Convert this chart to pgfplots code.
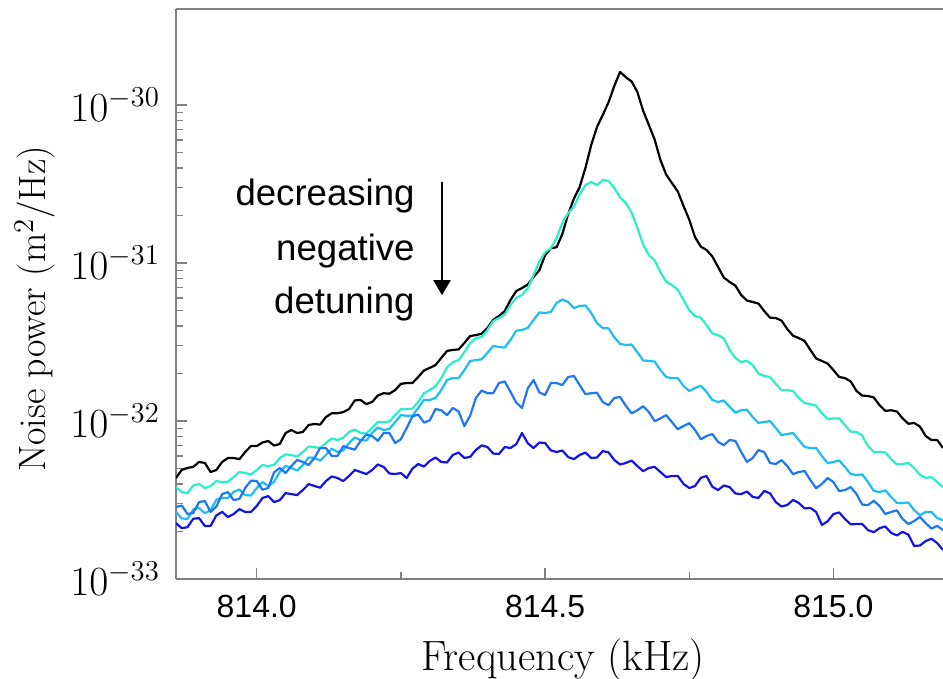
\documentclass[border=0pt]{standalone}
\usepackage{pgfplots}
\pgfplotsset{compat=1.18}
\usepackage{fontspec}
\usetikzlibrary{arrows.meta}
\newfontfamily\arialf{Liberation Sans}
\definecolor{axgray}{RGB}{128,128,128}
\definecolor{cA}{RGB}{40,240,200}
\definecolor{cB}{RGB}{30,190,245}
\definecolor{cC}{RGB}{30,120,245}
\definecolor{cD}{RGB}{20,20,230}
\begin{document}
\begin{tikzpicture}
\begin{axis}[
  name=ax, at={(0,0)}, anchor=south west,
  scale only axis, width=383.5pt, height=285pt,
  xmin=813.86, xmax=815.19,
  ymode=log, ymin=1e-33, ymax=4.05e-30,
  axis x line*=box, axis y line*=left,
  axis line style={axgray, line width=0.8pt},
  xtick={814,814.5,815}, xticklabels={814.0,814.5,815.0},
  minor xtick={814.25,814.75},
  xtick pos=bottom, ytick pos=left,
  ytick={1e-33,1e-32,1e-31,1e-30},
  tick align=inside,
  major tick length=5.5pt, minor tick length=3.5pt,
  every tick/.style={axgray, line width=0.7pt},
  xticklabel style={font=\arialf\fontsize{16}{16}\selectfont, yshift=-4.5pt},
  yticklabel style={font=\fontsize{20.5}{20.5}\selectfont, xshift=-4.5pt},
  xlabel={Frequency (kHz)},
  ylabel={Noise power (m$^2$/Hz)},
  xlabel style={font=\fontsize{21.2}{21.2}\selectfont, at={(axis description cs:0.505,-0.142)}, anchor=center},
  ylabel style={font=\fontsize{19}{19}\selectfont, at={(axis description cs:-0.184,0.474)}, anchor=center},
  every axis plot/.append style={line width=1.1pt, line join=round},
  clip=true,
]
\addplot[black] table {
813.86 4.36e-33
813.87 4.91e-33
813.88 5.05e-33
813.89 5.13e-33
813.90 5.51e-33
813.91 5.43e-33
813.92 4.76e-33
813.93 4.90e-33
813.94 5.51e-33
813.95 5.84e-33
813.96 5.84e-33
813.97 5.74e-33
813.98 6.37e-33
813.99 6.95e-33
814.00 6.95e-33
814.01 7.32e-33
814.02 7.48e-33
814.03 7.00e-33
814.04 7.16e-33
814.05 8.40e-33
814.06 8.78e-33
814.07 8.40e-33
814.08 8.53e-33
814.09 9.44e-33
814.10 9.58e-33
814.11 9.50e-33
814.12 1.06e-32
814.13 1.12e-32
814.14 1.12e-32
814.15 1.14e-32
814.16 1.19e-32
814.17 1.35e-32
814.18 1.36e-32
814.19 1.28e-32
814.20 1.32e-32
814.21 1.45e-32
814.22 1.50e-32
814.23 1.49e-32
814.24 1.57e-32
814.25 1.72e-32
814.26 1.74e-32
814.27 1.74e-32
814.28 1.90e-32
814.29 2.09e-32
814.30 2.17e-32
814.31 2.26e-32
814.32 2.51e-32
814.33 2.78e-32
814.34 2.82e-32
814.35 2.84e-32
814.36 3.12e-32
814.37 3.45e-32
814.38 3.50e-32
814.39 3.57e-32
814.40 3.88e-32
814.41 4.36e-32
814.42 4.62e-32
814.43 4.96e-32
814.44 5.84e-32
814.45 6.65e-32
814.46 6.95e-32
814.47 7.31e-32
814.48 8.16e-32
814.49 9.00e-32
814.50 1.12e-31
814.51 1.24e-31
814.52 1.26e-31
814.53 1.53e-31
814.54 2.04e-31
814.55 2.56e-31
814.56 3.03e-31
814.57 4.00e-31
814.58 5.59e-31
814.59 7.26e-31
814.60 8.65e-31
814.61 1.04e-30
814.62 1.32e-30
814.63 1.62e-30
814.64 1.50e-30
814.65 1.41e-30
814.66 1.21e-30
814.67 9.20e-31
814.68 7.48e-31
814.69 6.05e-31
814.70 4.49e-31
814.71 3.63e-31
814.72 3.21e-31
814.73 2.84e-31
814.74 2.30e-31
814.75 1.88e-31
814.76 1.46e-31
814.77 1.27e-31
814.78 1.21e-31
814.79 1.10e-31
814.80 9.44e-32
814.81 8.09e-32
814.82 7.59e-32
814.83 7.20e-32
814.84 6.28e-32
814.85 5.79e-32
814.86 5.67e-32
814.87 5.54e-32
814.88 4.97e-32
814.89 4.51e-32
814.90 4.49e-32
814.91 4.32e-32
814.92 3.82e-32
814.93 3.47e-32
814.94 3.35e-32
814.95 3.21e-32
814.96 2.82e-32
814.97 2.49e-32
814.98 2.40e-32
814.99 2.31e-32
815.00 2.10e-32
815.01 1.90e-32
815.02 1.87e-32
815.03 1.78e-32
815.04 1.55e-32
815.05 1.45e-32
815.06 1.44e-32
815.07 1.41e-32
815.08 1.26e-32
815.09 1.16e-32
815.10 1.17e-32
815.11 1.15e-32
815.12 1.04e-32
815.13 9.61e-33
815.14 9.72e-33
815.15 9.23e-33
815.16 8.04e-33
815.17 7.58e-33
815.18 7.59e-33
815.19 6.75e-33
};
\addplot[cA] table {
813.86 3.82e-33
813.87 3.55e-33
813.88 3.50e-33
813.89 3.91e-33
813.90 4.00e-33
813.91 3.77e-33
813.92 3.88e-33
813.93 4.17e-33
813.94 4.11e-33
813.95 4.14e-33
813.96 4.42e-33
813.97 4.76e-33
813.98 4.69e-33
813.99 4.59e-33
814.00 4.90e-33
814.01 5.27e-33
814.02 5.19e-33
814.03 5.28e-33
814.04 5.84e-33
814.05 6.15e-33
814.06 6.10e-33
814.07 5.96e-33
814.08 6.37e-33
814.09 6.90e-33
814.10 6.85e-33
814.11 6.75e-33
814.12 7.26e-33
814.13 7.76e-33
814.14 7.59e-33
814.15 7.83e-33
814.16 8.53e-33
814.17 8.84e-33
814.18 8.40e-33
814.19 8.34e-33
814.20 9.04e-33
814.21 9.87e-33
814.22 9.85e-33
814.23 9.94e-33
814.24 1.09e-32
814.25 1.19e-32
814.26 1.19e-32
814.27 1.20e-32
814.28 1.32e-32
814.29 1.50e-32
814.30 1.57e-32
814.31 1.66e-32
814.32 1.87e-32
814.33 2.19e-32
814.34 2.36e-32
814.35 2.43e-32
814.36 2.73e-32
814.37 3.11e-32
814.38 3.35e-32
814.39 3.40e-32
814.40 3.77e-32
814.41 4.29e-32
814.42 4.49e-32
814.43 4.72e-32
814.44 5.43e-32
814.45 6.01e-32
814.46 6.28e-32
814.47 6.94e-32
814.48 8.40e-32
814.49 1.02e-31
814.50 1.17e-31
814.51 1.24e-31
814.52 1.44e-31
814.53 1.80e-31
814.54 2.07e-31
814.55 2.27e-31
814.56 2.73e-31
814.57 3.11e-31
814.58 3.26e-31
814.59 3.11e-31
814.60 3.35e-31
814.61 3.31e-31
814.62 2.99e-31
814.63 2.60e-31
814.64 2.40e-31
814.65 2.09e-31
814.66 1.67e-31
814.67 1.31e-31
814.68 1.12e-31
814.69 1.04e-31
814.70 8.78e-32
814.71 7.63e-32
814.72 7.26e-32
814.73 6.80e-32
814.74 5.84e-32
814.75 5.04e-32
814.76 4.62e-32
814.77 4.51e-32
814.78 4.05e-32
814.79 3.59e-32
814.80 3.50e-32
814.81 3.33e-32
814.82 2.82e-32
814.83 2.51e-32
814.84 2.36e-32
814.85 2.41e-32
814.86 2.26e-32
814.87 2.00e-32
814.88 1.93e-32
814.89 1.90e-32
814.90 1.72e-32
814.91 1.57e-32
814.92 1.57e-32
814.93 1.55e-32
814.94 1.40e-32
814.95 1.30e-32
814.96 1.28e-32
814.97 1.25e-32
814.98 1.12e-32
814.99 1.03e-32
815.00 1.04e-32
815.01 1.04e-32
815.02 9.44e-33
815.03 8.58e-33
815.04 8.53e-33
815.05 8.08e-33
815.06 6.95e-33
815.07 6.37e-33
815.08 6.37e-33
815.09 6.33e-33
815.10 5.75e-33
815.11 5.31e-33
815.12 5.35e-33
815.13 5.43e-33
815.14 5.05e-33
815.15 4.57e-33
815.16 4.36e-33
815.17 4.42e-33
815.18 4.11e-33
815.19 3.82e-33
};
\addplot[cB] table {
813.86 2.66e-33
813.87 2.42e-33
813.88 2.40e-33
813.89 2.76e-33
813.90 2.82e-33
813.91 2.61e-33
813.92 2.73e-33
813.93 3.18e-33
813.94 3.26e-33
813.95 3.26e-33
813.96 3.56e-33
813.97 3.69e-33
813.98 3.40e-33
813.99 3.38e-33
814.00 3.77e-33
814.01 4.11e-33
814.02 3.88e-33
814.03 4.13e-33
814.04 4.76e-33
814.05 5.20e-33
814.06 5.05e-33
814.07 4.86e-33
814.08 5.27e-33
814.09 5.89e-33
814.10 5.84e-33
814.11 5.62e-33
814.12 6.10e-33
814.13 6.70e-33
814.14 6.37e-33
814.15 6.52e-33
814.16 7.26e-33
814.17 7.87e-33
814.18 7.59e-33
814.19 7.53e-33
814.20 8.40e-33
814.21 9.10e-33
814.22 8.78e-33
814.23 8.91e-33
814.24 9.85e-33
814.25 1.09e-32
814.26 1.08e-32
814.27 1.08e-32
814.28 1.21e-32
814.29 1.36e-32
814.30 1.36e-32
814.31 1.40e-32
814.32 1.57e-32
814.33 1.82e-32
814.34 1.87e-32
814.35 1.87e-32
814.36 2.10e-32
814.37 2.40e-32
814.38 2.43e-32
814.39 2.46e-32
814.40 2.70e-32
814.41 2.99e-32
814.42 2.94e-32
814.43 2.92e-32
814.44 3.26e-32
814.45 3.73e-32
814.46 3.77e-32
814.47 3.89e-32
814.48 4.36e-32
814.49 4.87e-32
814.50 4.83e-32
814.51 4.90e-32
814.52 5.59e-32
814.53 5.88e-32
814.54 5.67e-32
814.55 5.19e-32
814.56 5.35e-32
814.57 5.39e-32
814.58 4.83e-32
814.59 4.17e-32
814.60 3.88e-32
814.61 3.86e-32
814.62 3.40e-32
814.63 3.08e-32
814.64 3.03e-32
814.65 3.05e-32
814.66 2.73e-32
814.67 2.42e-32
814.68 2.40e-32
814.69 2.38e-32
814.70 2.10e-32
814.71 1.90e-32
814.72 1.87e-32
814.73 1.87e-32
814.74 1.67e-32
814.75 1.55e-32
814.76 1.62e-32
814.77 1.67e-32
814.78 1.53e-32
814.79 1.36e-32
814.80 1.32e-32
814.81 1.35e-32
814.82 1.23e-32
814.83 1.13e-32
814.84 1.17e-32
814.85 1.18e-32
814.86 1.06e-32
814.87 9.75e-33
814.88 9.85e-33
814.89 1.00e-32
814.90 9.04e-33
814.91 8.15e-33
814.92 8.28e-33
814.93 8.41e-33
814.94 7.59e-33
814.95 6.85e-33
814.96 6.75e-33
814.97 6.76e-33
814.98 6.01e-33
814.99 5.42e-33
815.00 5.51e-33
815.01 5.63e-33
815.02 5.12e-33
815.03 4.62e-33
815.04 4.55e-33
815.05 4.59e-33
815.06 4.11e-33
815.07 3.61e-33
815.08 3.56e-33
815.09 3.64e-33
815.10 3.31e-33
815.11 3.03e-33
815.12 3.03e-33
815.13 3.05e-33
815.14 2.73e-33
815.15 2.54e-33
815.16 2.66e-33
815.17 2.66e-33
815.18 2.43e-33
815.19 2.36e-33
};
\addplot[cC] table {
813.86 2.86e-33
813.87 2.92e-33
813.88 2.58e-33
813.89 2.62e-33
813.90 3.07e-33
813.91 3.12e-33
813.92 2.66e-33
813.93 2.88e-33
813.94 3.45e-33
813.95 3.55e-33
813.96 3.16e-33
813.97 3.22e-33
813.98 3.77e-33
813.99 4.20e-33
814.00 4.17e-33
814.01 3.68e-33
814.02 3.77e-33
814.03 4.73e-33
814.04 5.05e-33
814.05 4.69e-33
814.06 5.19e-33
814.07 5.67e-33
814.08 5.51e-33
814.09 5.27e-33
814.10 5.84e-33
814.11 6.76e-33
814.12 6.75e-33
814.13 6.01e-33
814.14 6.01e-33
814.15 6.94e-33
814.16 6.75e-33
814.17 6.60e-33
814.18 7.48e-33
814.19 8.22e-33
814.20 8.04e-33
814.21 7.50e-33
814.22 8.40e-33
814.23 8.40e-33
814.24 7.26e-33
814.25 7.68e-33
814.26 9.04e-33
814.27 1.07e-32
814.28 1.10e-32
814.29 9.78e-33
814.30 1.01e-32
814.31 1.19e-32
814.32 1.17e-32
814.33 1.09e-32
814.34 1.21e-32
814.35 1.15e-32
814.36 9.30e-33
814.37 1.08e-32
814.38 1.40e-32
814.39 1.56e-32
814.40 1.50e-32
814.41 1.50e-32
814.42 1.74e-32
814.43 1.78e-32
814.44 1.53e-32
814.45 1.31e-32
814.46 1.21e-32
814.47 1.61e-32
814.48 1.82e-32
814.49 1.52e-32
814.50 1.46e-32
814.51 1.74e-32
814.52 1.74e-32
814.53 1.69e-32
814.54 1.90e-32
814.55 1.93e-32
814.56 1.69e-32
814.57 1.48e-32
814.58 1.50e-32
814.59 1.51e-32
814.60 1.32e-32
814.61 1.26e-32
814.62 1.40e-32
814.63 1.42e-32
814.64 1.25e-32
814.65 1.12e-32
814.66 1.17e-32
814.67 1.24e-32
814.68 1.14e-32
814.69 9.98e-33
814.70 1.04e-32
814.71 1.09e-32
814.72 9.85e-33
814.73 8.88e-33
814.74 9.30e-33
814.75 9.70e-33
814.76 8.78e-33
814.77 7.67e-33
814.78 8.04e-33
814.79 8.28e-33
814.80 7.37e-33
814.81 7.04e-33
814.82 7.59e-33
814.83 7.49e-33
814.84 6.37e-33
814.85 5.52e-33
814.86 5.84e-33
814.87 6.55e-33
814.88 6.37e-33
814.89 5.43e-33
814.90 5.35e-33
814.91 5.66e-33
814.92 5.19e-33
814.93 4.61e-33
814.94 4.76e-33
814.95 4.83e-33
814.96 4.23e-33
814.97 3.76e-33
814.98 4.00e-33
814.99 4.36e-33
815.00 4.11e-33
815.01 3.60e-33
815.02 3.66e-33
815.03 3.82e-33
815.04 3.45e-33
815.05 2.96e-33
815.06 2.94e-33
815.07 3.13e-33
815.08 2.90e-33
815.09 2.58e-33
815.10 2.66e-33
815.11 2.72e-33
815.12 2.40e-33
815.13 2.23e-33
815.14 2.33e-33
815.15 2.47e-33
815.16 2.26e-33
815.17 2.09e-33
815.18 2.17e-33
815.19 2.04e-33
};
\addplot[cD] table {
813.86 2.26e-33
813.87 2.10e-33
813.88 2.13e-33
813.89 2.41e-33
813.90 2.43e-33
813.91 2.17e-33
813.92 2.17e-33
813.93 2.53e-33
813.94 2.66e-33
813.95 2.47e-33
813.96 2.58e-33
813.97 2.77e-33
813.98 2.66e-33
813.99 2.66e-33
814.00 2.90e-33
814.01 3.26e-33
814.02 3.35e-33
814.03 3.07e-33
814.04 3.16e-33
814.05 3.50e-33
814.06 3.45e-33
814.07 3.40e-33
814.08 3.66e-33
814.09 3.99e-33
814.10 3.88e-33
814.11 3.79e-33
814.12 4.17e-33
814.13 4.46e-33
814.14 4.36e-33
814.15 4.17e-33
814.16 4.49e-33
814.17 4.90e-33
814.18 4.76e-33
814.19 4.62e-33
814.20 4.90e-33
814.21 5.31e-33
814.22 5.12e-33
814.23 4.66e-33
814.24 4.62e-33
814.25 4.69e-33
814.26 4.36e-33
814.27 5.00e-33
814.28 5.35e-33
814.29 5.15e-33
814.30 5.59e-33
814.31 5.88e-33
814.32 5.51e-33
814.33 5.47e-33
814.34 6.10e-33
814.35 6.32e-33
814.36 5.84e-33
814.37 5.93e-33
814.38 6.56e-33
814.39 7.01e-33
814.40 6.85e-33
814.41 6.23e-33
814.42 6.19e-33
814.43 6.85e-33
814.44 6.75e-33
814.45 7.14e-33
814.46 8.40e-33
814.47 7.24e-33
814.48 6.75e-33
814.49 7.31e-33
814.50 7.26e-33
814.51 6.52e-33
814.52 6.37e-33
814.53 6.51e-33
814.54 5.92e-33
814.55 5.74e-33
814.56 6.10e-33
814.57 6.32e-33
814.58 5.84e-33
814.59 5.88e-33
814.60 6.46e-33
814.61 6.34e-33
814.62 5.67e-33
814.63 5.31e-33
814.64 5.43e-33
814.65 5.62e-33
814.66 5.19e-33
814.67 4.82e-33
814.68 5.05e-33
814.69 5.13e-33
814.70 4.76e-33
814.71 4.42e-33
814.72 4.49e-33
814.73 4.50e-33
814.74 4.00e-33
814.75 3.77e-33
814.76 3.88e-33
814.77 4.37e-33
814.78 4.49e-33
814.79 3.84e-33
814.80 3.66e-33
814.81 3.91e-33
814.82 3.82e-33
814.83 3.48e-33
814.84 3.45e-33
814.85 3.58e-33
814.86 3.31e-33
814.87 3.26e-33
814.88 3.61e-33
814.89 3.49e-33
814.90 3.07e-33
814.91 2.88e-33
814.92 2.94e-33
814.93 3.17e-33
814.94 3.03e-33
814.95 2.80e-33
814.96 2.82e-33
814.97 2.66e-33
814.98 2.20e-33
814.99 2.32e-33
815.00 2.58e-33
815.01 2.64e-33
815.02 2.40e-33
815.03 2.22e-33
815.04 2.23e-33
815.05 2.23e-33
815.06 2.04e-33
815.07 1.98e-33
815.08 2.10e-33
815.09 2.15e-33
815.10 1.96e-33
815.11 1.89e-33
815.12 1.99e-33
815.13 1.91e-33
815.14 1.62e-33
815.15 1.63e-33
815.16 1.74e-33
815.17 1.80e-33
815.18 1.69e-33
815.19 1.53e-33
};
\node[anchor=base east, font=\arialf\fontsize{18.3}{18.3}\selectfont, inner sep=0pt] at (axis description cs:0.3116,0.656) {decreasing};
\node[anchor=base east, font=\arialf\fontsize{18.3}{18.3}\selectfont, inner sep=0pt] at (axis description cs:0.3116,0.5596) {negative};
\node[anchor=base east, font=\arialf\fontsize{18.3}{18.3}\selectfont, inner sep=0pt] at (axis description cs:0.3116,0.4667) {detuning};
\draw[line width=1pt, -{Triangle[width=8.5pt,length=7.5pt]}] (axis description cs:0.3468,0.6965) -- (axis description cs:0.3468,0.498);
\end{axis}
\pgfresetboundingbox
\path (-88pt,-50pt) rectangle (383.5pt,289.5pt);
\end{tikzpicture}
\end{document}
